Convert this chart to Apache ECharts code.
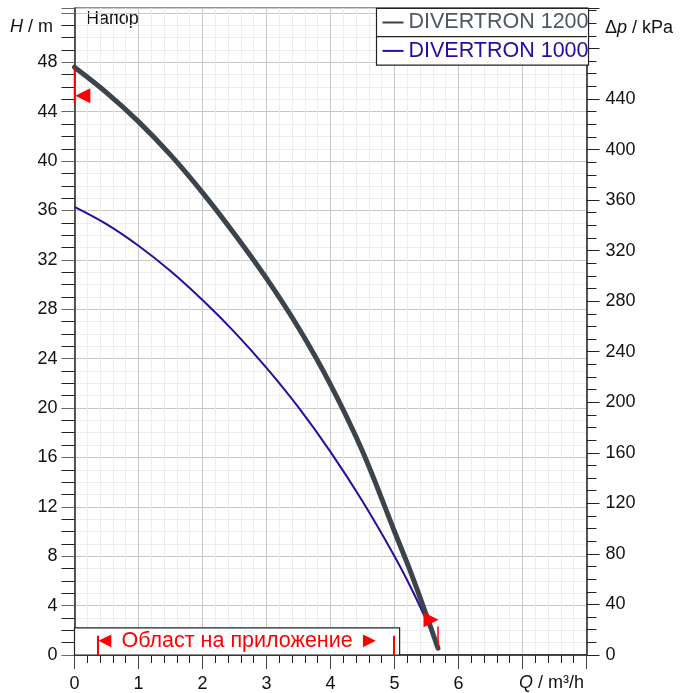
<!DOCTYPE html>
<html>
<head>
<meta charset="utf-8">
<script src="https://cdn.jsdelivr.net/npm/echarts@6/dist/echarts.min.js"></script>
<style>
  html, body { margin: 0; padding: 0; background: #fff; }
  #myChart { width: 685px; height: 693px; }
</style>
</head>
<body>
<div id="myChart"></div>
<script>
// pump curves, H (m) over Q (m3/h)
var q1200 = [0, 0.5, 1, 1.5, 2, 2.5, 3, 3.5, 4, 4.5, 5, 5.25, 5.5, 5.68];
var h1200 = [47.6, 45.55, 43.2, 40.5, 37.45, 34.1, 30.5, 26.5, 21.9, 16.5, 10.0, 6.75, 3.2, 0.55];
var q1000 = [0, 0.5, 1, 1.5, 2, 2.5, 3, 3.5, 4, 4.5, 5, 5.3, 5.55];
var h1000 = [36.3, 34.9, 33.15, 31.1, 28.75, 26.15, 23.25, 20.05, 16.45, 12.45, 8.0, 5.0, 2.2];

// red operating point markers (triangles) and their small bars
var markerQ = [0.13, 5.57];
var markerH = [45.3, 2.86];
var markerRot = [90, -90];
var barLeft = [[0, 47.6], [0, 44.7]];
var barRight = [[5.68, 2.3], [5.68, 0.6]];

// application range
var appFrom = 0.36, appTo = 4.99;
var appBox = [[0, 0], [5.08, 2.2]];
var appBarTop = 1.56;

var xMax = 8, yMax = 52.4, pMax = 512;
var font = '"Liberation Sans", Arial, sans-serif';

function zip(a, b) {
    return a.map(function (v, i) { return [v, b[i]]; });
}

var myChart = echarts.init(document.getElementById('myChart'));
var option = {
    backgroundColor: '#ffffff',
    animation: false,
    textStyle: { fontFamily: font },
    grid: {
        left: 74.5, right: 98.5, top: 8, bottom: 38,
        show: true, borderColor: '#222', borderWidth: 1
    },
    legend: {
        data: [
            { name: 'DIVERTRON 1200', textStyle: { color: '#4e5862' } },
            { name: 'DIVERTRON 1000', textStyle: { color: '#2a0aa0' } }
        ],
        orient: 'vertical',
        left: 376.5, top: 8.3,
        padding: [2.2, 0, 2.2, 6],
        itemGap: 4.4,
        itemWidth: 21, itemHeight: 2,
        icon: 'rect',
        backgroundColor: '#fff',
        borderColor: '#222', borderWidth: 1.2,
        textStyle: { fontSize: 21.5, lineHeight: 24, fontFamily: font }
    },
    xAxis: {
        type: 'value', min: 0, max: xMax, interval: 1,
        axisLine: { lineStyle: { color: '#222', width: 1.5 } },
        axisTick: { length: 14, lineStyle: { color: '#444' } },
        minorTick: { show: true, splitNumber: 5, length: 8, lineStyle: { color: '#222' } },
        axisLabel: {
            fontSize: 18, color: '#111', margin: 20,
            formatter: function (v) { return v >= 7 ? '' : String(v); }
        },
        splitLine: { lineStyle: { color: '#c8c8c8' } },
        minorSplitLine: { show: true, lineStyle: { color: '#ededed' } }
    },
    yAxis: [{
        type: 'value', min: 0, max: yMax, interval: 4,
        axisLine: { show: true, lineStyle: { color: '#222', width: 1.5 } },
        axisTick: { show: true, length: 13, lineStyle: { color: '#666' } },
        minorTick: { show: true, splitNumber: 4, length: 13, lineStyle: { color: '#222' } },
        axisLabel: {
            fontSize: 18, color: '#111', margin: 17,
            formatter: function (v) { return v > 50 ? '' : String(v); }
        },
        splitLine: { lineStyle: { color: '#c8c8c8' } },
        minorSplitLine: { show: true, lineStyle: { color: '#ededed' } }
    }, {
        type: 'value', min: 0, max: pMax, interval: 40, position: 'right',
        axisLine: { show: true, lineStyle: { color: '#222', width: 1.5 } },
        axisTick: { show: true, length: 13, lineStyle: { color: '#222' } },
        minorTick: { show: true, splitNumber: 4, length: 10, lineStyle: { color: '#222' } },
        axisLabel: {
            fontSize: 18, color: '#111', margin: 19,
            formatter: function (v) { return v > 450 ? '' : String(v); }
        },
        splitLine: { show: false }
    }],
    graphic: [
        { type: 'line', shape: { x1: 377, y1: 36.7, x2: 587, y2: 36.7 }, style: { stroke: '#222', lineWidth: 1.2 }, z: 200 },
        { type: 'text', left: 86, top: 10, style: { text: 'Напор', font: '18px ' + font, fill: '#111' } },
        {
            type: 'text', right: 685 - 53, top: 18,
            style: {
                text: '{i|H} / m', font: '18px ' + font, fill: '#111',
                rich: { i: { fontStyle: 'italic', fontSize: 18, fontFamily: font } }
            }
        },
        {
            type: 'text', left: 605, top: 19,
            style: {
                text: 'Δ{i|p} / kPa', font: '18px ' + font, fill: '#111',
                rich: { i: { fontStyle: 'italic', fontSize: 18, fontFamily: font } }
            }
        },
        {
            type: 'text', right: 685 - 584, top: 674,
            style: {
                text: '{i|Q} / m³/h', font: '18px ' + font, fill: '#111',
                rich: { i: { fontStyle: 'italic', fontSize: 18, fontFamily: font } }
            }
        }
    ],
    series: [
        {
            name: 'application', type: 'line', data: [], z: 3,
            markArea: {
                silent: true,
                itemStyle: { color: '#fff', borderColor: '#222', borderWidth: 1.2 },
                label: {
                    show: true, position: 'inside', color: '#ff0000', fontSize: 21.5,
                    fontFamily: font, formatter: '◄ Област на приложение ►'
                },
                data: [[{ coord: appBox[0] }, { coord: appBox[1] }]]
            },
            markLine: {
                silent: true, symbol: 'none',
                lineStyle: { color: '#ff0000', width: 2, type: 'solid' },
                label: { show: false },
                data: [
                    [{ coord: [appFrom, 0] }, { coord: [appFrom, appBarTop] }],
                    [{ coord: [appTo, 0] }, { coord: [appTo, appBarTop] }]
                ]
            }
        },
        {
            name: 'DIVERTRON 1000', type: 'line', smooth: 0.35, showSymbol: false,
            data: zip(q1000, h1000), z: 4,
            itemStyle: { color: '#2a0aa0' },
            lineStyle: { color: '#2a0aa0', width: 2 }
        },
        {
            name: 'DIVERTRON 1200', type: 'line', smooth: 0.35, showSymbol: false,
            data: zip(q1200, h1200), z: 5,
            itemStyle: { color: '#3b444c' },
            lineStyle: { color: '#3b444c', width: 5, cap: 'round' }
        },
        {
            name: 'barL', type: 'line', showSymbol: false, data: barLeft, z: 6,
            lineStyle: { color: '#ff0000', width: 1.5 }
        },
        {
            name: 'barR', type: 'line', showSymbol: false, data: barRight, z: 6,
            lineStyle: { color: '#ff0000', width: 1.5 }
        },
        {
            name: 'marker', type: 'scatter', z: 7,
            symbol: 'triangle', symbolSize: [15, 15],
            itemStyle: { color: '#ff0000', opacity: 1 },
            data: markerQ.map(function (q, i) {
                return { value: [q, markerH[i]], symbolRotate: markerRot[i] };
            })
        }
    ]
};
myChart.setOption(option);
</script>
</body>
</html>
